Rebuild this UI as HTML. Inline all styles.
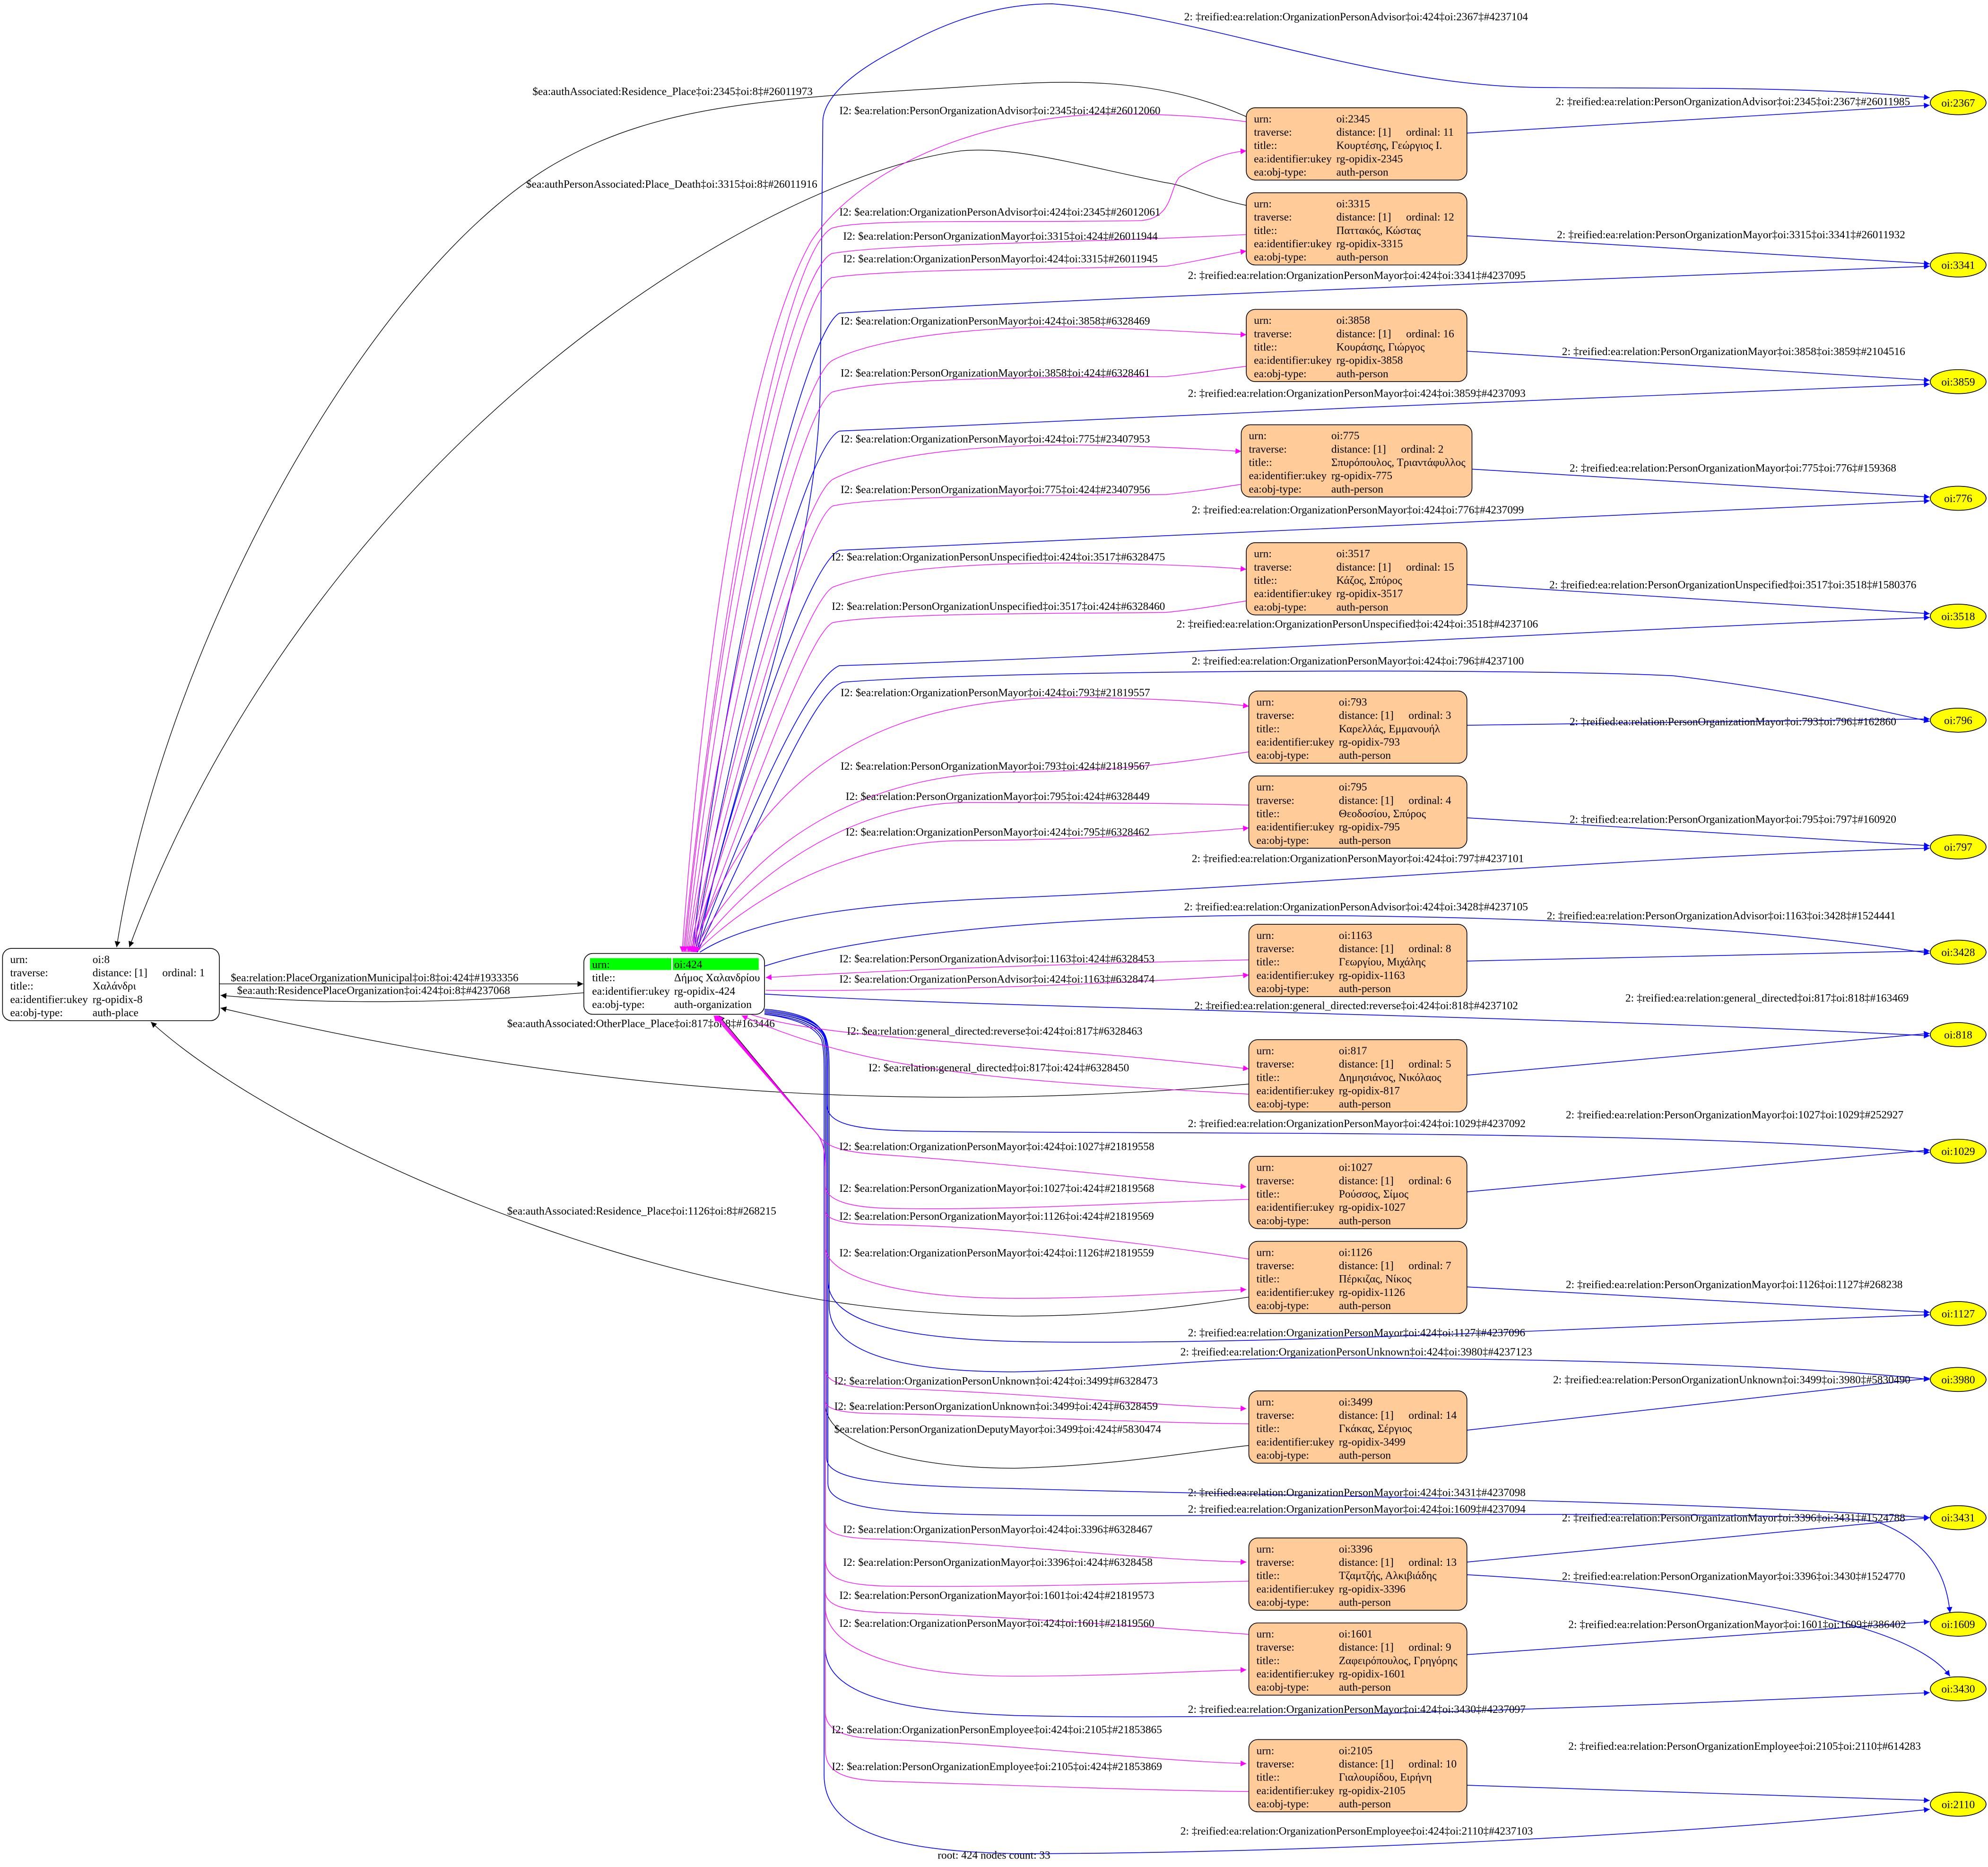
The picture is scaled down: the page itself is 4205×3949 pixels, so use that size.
<!DOCTYPE html>
<html><head><meta charset="utf-8"><style>
html,body{margin:0;padding:0;background:#fff}
svg{display:block}
text{font-family:"Liberation Serif","DejaVu Serif",serif;font-size:8.7px;fill:#000}
</style></head><body>
<svg xmlns="http://www.w3.org/2000/svg" width="4205" height="3949" viewBox="0 0 1568 1472.5" preserveAspectRatio="none">
<defs>
<marker id="ab" viewBox="0 0 10 10" refX="10" refY="5" markerWidth="6" markerHeight="4.5" orient="auto" markerUnits="userSpaceOnUse"><path d="M0,0L10,5L0,10z" fill="#0000ff"/></marker>
<marker id="am" viewBox="0 0 10 10" refX="10" refY="5" markerWidth="6" markerHeight="4.5" orient="auto" markerUnits="userSpaceOnUse"><path d="M0,0L10,5L0,10z" fill="#ff00ff"/></marker>
<marker id="amr" viewBox="0 0 10 10" refX="10" refY="5" markerWidth="6" markerHeight="4.5" orient="auto-start-reverse" markerUnits="userSpaceOnUse"><path d="M0,0L10,5L0,10z" fill="#ff00ff"/></marker>
<marker id="ak" viewBox="0 0 10 10" refX="10" refY="5" markerWidth="6" markerHeight="4.5" orient="auto" markerUnits="userSpaceOnUse"><path d="M0,0L10,5L0,10z" fill="#000"/></marker>
<marker id="akr" viewBox="0 0 10 10" refX="10" refY="5" markerWidth="6" markerHeight="4.5" orient="auto-start-reverse" markerUnits="userSpaceOnUse"><path d="M0,0L10,5L0,10z" fill="#000"/></marker>
</defs>
<rect width="1568" height="1472.5" fill="#fff"/>

<!-- BLACK EDGES -->
<g fill="none" stroke="#000" stroke-width="0.5">
<path d="M173,776 L460,776" marker-end="url(#ak)"/>
<path d="M460.5,783 C350,792 250,792 174,785" marker-end="url(#ak)"/>
<path d="M985,855 C700,880 450,860 174,795" marker-end="url(#ak)"/>
<path d="M985,1023 C940,1030 880,1038 800,1038 C700,1036 640,1025 590,1014 C400,975 200,880 119,806" marker-end="url(#ak)"/>
<path d="M983,92 C900,55 820,65 737,70 C600,78 520,85 447,124 C300,200 130,500 92,747" marker-end="url(#ak)"/>
<path d="M983,162 C950,155 935,146 919,144 C850,130 800,115 758,119 C600,140 250,350 102,747" marker-end="url(#ak)"/>
<path d="M567,801 L645,895 C650,902 651,910 651,925 L651,1110 C655,1140 720,1158 800,1158 C880,1156 940,1145 985,1140" marker-start="url(#akr)"/>
</g>
<text x="182" y="774">$ea:relation:PlaceOrganizationMunicipal‡oi:8‡oi:424‡#1933356</text>
<text x="187" y="784">$ea:auth:ResidencePlaceOrganization‡oi:424‡oi:8‡#4237068</text>
<text x="400" y="810">$ea:authAssociated:OtherPlace_Place‡oi:817‡oi:8‡#163446</text>
<text x="400" y="958">$ea:authAssociated:Residence_Place‡oi:1126‡oi:8‡#268215</text>
<text x="420" y="75">$ea:authAssociated:Residence_Place‡oi:2345‡oi:8‡#26011973</text>
<text x="415" y="148">$ea:authPersonAssociated:Place_Death‡oi:3315‡oi:8‡#26011916</text>
<text x="658" y="1130">$ea:relation:PersonOrganizationDeputyMayor‡oi:3499‡oi:424‡#5830474</text>

<!-- BLUE EDGES FROM 424 -->
<g fill="none" stroke="#0000ff" stroke-width="0.6">
<path d="M550,751 C580,600 646,450 647,300 L649,95 C650,80 665,60 711,37 C750,15 790,3 830,3 C950,12 1080,68 1215,69 C1330,70 1420,68 1522,77" marker-end="url(#ab)"/>
<path d="M546,751 C575,500 635,262 662,247 C800,238 1100,226 1522,210" marker-end="url(#ab)"/>
<path d="M547,751 C580,560 635,352 662,340 C900,328 1300,312 1522,303" marker-end="url(#ab)"/>
<path d="M548,751 C585,600 637,446 662,434 C900,424 1300,405 1522,395" marker-end="url(#ab)"/>
<path d="M549,751 C590,640 638,535 662,525 C900,518 1300,495 1522,487" marker-end="url(#ab)"/>
<path d="M550,751 C595,660 640,545 665,538 C800,528 1200,527 1320,533 C1420,545 1480,560 1522,569" marker-end="url(#ab)"/>
<path d="M552,751 C600,720 700,712 800,708 C1000,700 1300,675 1522,669" marker-end="url(#ab)"/>
<path d="M603,762 C700,730 900,722 1000,722 C1200,722 1400,732 1522,752" marker-end="url(#ab)"/>
<path d="M603,784 C800,796 1200,800 1522,817" marker-end="url(#ab)"/>
<path d="M603,796 C630,798 645,805 649,815 C652,822 652,830 652,845 L652,870 C652,884 665,891 720,892 C900,895 1300,890 1522,909" marker-end="url(#ab)"/>
<path d="M603,797 C630,799 646,806 650,816 C653,824 653,832 653,846 L653,1010 C653,1040 700,1055 800,1058 C1000,1062 1300,1045 1522,1037" marker-end="url(#ab)"/>
<path d="M603,798 C631,800 647,807 651,817 C654,825 654,833 654,847 L654,1030 C654,1070 720,1082 800,1082 C900,1080 950,1070 1050,1071 C1300,1072 1450,1080 1522,1088" marker-end="url(#ab)"/>
<path d="M603,799 C630,801 645,808 650,818 C652,826 652,834 652,848 L652,1150 C652,1168 700,1172 800,1174 C1000,1180 1300,1182 1522,1197" marker-end="url(#ab)"/>
<path d="M603,799 C631,801 646,808 651,818 C653,826 653,834 653,848 L653,1170 C653,1190 700,1194 800,1195 C1000,1197 1400,1190 1480,1200 C1520,1215 1535,1240 1538,1272" marker-end="url(#ab)"/>
<path d="M603,800 C629,802 644,809 649,819 C651,827 651,835 651,849 L651,1300 C651,1340 720,1350 800,1353 C1000,1358 1300,1345 1522,1335" marker-end="url(#ab)"/>
<path d="M603,800 C628,803 643,810 648,820 C650,828 650,836 650,850 L650,1400 C650,1450 720,1460 800,1462 C1000,1462 1300,1450 1522,1427" marker-end="url(#ab)"/>
</g>
<text x="934" y="16">2: ‡reified:ea:relation:OrganizationPersonAdvisor‡oi:424‡oi:2367‡#4237104</text>
<text x="937" y="220">2: ‡reified:ea:relation:OrganizationPersonMayor‡oi:424‡oi:3341‡#4237095</text>
<text x="937" y="313">2: ‡reified:ea:relation:OrganizationPersonMayor‡oi:424‡oi:3859‡#4237093</text>
<text x="940" y="405">2: ‡reified:ea:relation:OrganizationPersonMayor‡oi:424‡oi:776‡#4237099</text>
<text x="928" y="495">2: ‡reified:ea:relation:OrganizationPersonUnspecified‡oi:424‡oi:3518‡#4237106</text>
<text x="940" y="524">2: ‡reified:ea:relation:OrganizationPersonMayor‡oi:424‡oi:796‡#4237100</text>
<text x="940" y="680">2: ‡reified:ea:relation:OrganizationPersonMayor‡oi:424‡oi:797‡#4237101</text>
<text x="934" y="718">2: ‡reified:ea:relation:OrganizationPersonAdvisor‡oi:424‡oi:3428‡#4237105</text>
<text x="942" y="796">2: ‡reified:ea:relation:general_directed:reverse‡oi:424‡oi:818‡#4237102</text>
<text x="937" y="889">2: ‡reified:ea:relation:OrganizationPersonMayor‡oi:424‡oi:1029‡#4237092</text>
<text x="937" y="1054">2: ‡reified:ea:relation:OrganizationPersonMayor‡oi:424‡oi:1127‡#4237096</text>
<text x="931" y="1069">2: ‡reified:ea:relation:OrganizationPersonUnknown‡oi:424‡oi:3980‡#4237123</text>
<text x="937" y="1180">2: ‡reified:ea:relation:OrganizationPersonMayor‡oi:424‡oi:3431‡#4237098</text>
<text x="937" y="1193">2: ‡reified:ea:relation:OrganizationPersonMayor‡oi:424‡oi:1609‡#4237094</text>
<text x="937" y="1351">2: ‡reified:ea:relation:OrganizationPersonMayor‡oi:424‡oi:3430‡#4237097</text>
<text x="931" y="1447">2: ‡reified:ea:relation:OrganizationPersonEmployee‡oi:424‡oi:2110‡#4237103</text>

<!-- BLUE EDGES PERSON -> ELLIPSE -->
<g fill="none" stroke="#0000ff" stroke-width="0.6">
<path d="M1157,105 L1522,83" marker-end="url(#ab)"/>
<path d="M1157,186 L1522,208" marker-end="url(#ab)"/>
<path d="M1157,277 L1522,300" marker-end="url(#ab)"/>
<path d="M1161,370 L1522,392" marker-end="url(#ab)"/>
<path d="M1157,461 L1522,484" marker-end="url(#ab)"/>
<path d="M1157,572 L1522,567" marker-end="url(#ab)"/>
<path d="M1157,645 L1522,667" marker-end="url(#ab)"/>
<path d="M1157,758 L1522,750" marker-end="url(#ab)"/>
<path d="M1157,848 L1522,815" marker-end="url(#ab)"/>
<path d="M1157,940 L1522,907" marker-end="url(#ab)"/>
<path d="M1157,1015 L1522,1035" marker-end="url(#ab)"/>
<path d="M1157,1128 L1522,1087" marker-end="url(#ab)"/>
<path d="M1157,1232 L1522,1197" marker-end="url(#ab)"/>
<path d="M1157,1242 C1300,1250 1500,1270 1538,1322" marker-end="url(#ab)"/>
<path d="M1157,1305 L1522,1279" marker-end="url(#ab)"/>
<path d="M1157,1408 L1522,1420" marker-end="url(#ab)"/>
</g>
<text x="1227" y="83">2: ‡reified:ea:relation:PersonOrganizationAdvisor‡oi:2345‡oi:2367‡#26011985</text>
<text x="1228" y="188">2: ‡reified:ea:relation:PersonOrganizationMayor‡oi:3315‡oi:3341‡#26011932</text>
<text x="1232" y="280">2: ‡reified:ea:relation:PersonOrganizationMayor‡oi:3858‡oi:3859‡#2104516</text>
<text x="1238" y="372">2: ‡reified:ea:relation:PersonOrganizationMayor‡oi:775‡oi:776‡#159368</text>
<text x="1222" y="464">2: ‡reified:ea:relation:PersonOrganizationUnspecified‡oi:3517‡oi:3518‡#1580376</text>
<text x="1238" y="572">2: ‡reified:ea:relation:PersonOrganizationMayor‡oi:793‡oi:796‡#162860</text>
<text x="1238" y="649">2: ‡reified:ea:relation:PersonOrganizationMayor‡oi:795‡oi:797‡#160920</text>
<text x="1220" y="725">2: ‡reified:ea:relation:PersonOrganizationAdvisor‡oi:1163‡oi:3428‡#1524441</text>
<text x="1282" y="790">2: ‡reified:ea:relation:general_directed‡oi:817‡oi:818‡#163469</text>
<text x="1235" y="882">2: ‡reified:ea:relation:PersonOrganizationMayor‡oi:1027‡oi:1029‡#252927</text>
<text x="1235" y="1016">2: ‡reified:ea:relation:PersonOrganizationMayor‡oi:1126‡oi:1127‡#268238</text>
<text x="1225" y="1091">2: ‡reified:ea:relation:PersonOrganizationUnknown‡oi:3499‡oi:3980‡#5830490</text>
<text x="1232" y="1200">2: ‡reified:ea:relation:PersonOrganizationMayor‡oi:3396‡oi:3431‡#1524788</text>
<text x="1232" y="1246">2: ‡reified:ea:relation:PersonOrganizationMayor‡oi:3396‡oi:3430‡#1524770</text>
<text x="1237" y="1284">2: ‡reified:ea:relation:PersonOrganizationMayor‡oi:1601‡oi:1609‡#386402</text>
<text x="1237" y="1380">2: ‡reified:ea:relation:PersonOrganizationEmployee‡oi:2105‡oi:2110‡#614283</text>

<!-- MAGENTA EDGES -->
<g fill="none" stroke="#ff00ff" stroke-width="0.5">
<path d="M538,751 C560,450 600,260 640,190 C680,130 780,90 880,90 C930,90 960,93 983,96" marker-start="url(#amr)"/>
<path d="M539,751 C570,450 620,200 656,180 C680,172 800,176 900,174 C925,172 922,150 930,140 C950,125 970,120 983,119" marker-end="url(#am)"/>
<path d="M540,751 C570,450 625,215 656,200 C700,192 850,192 983,185" marker-start="url(#amr)"/>
<path d="M541,751 C572,480 628,232 656,219 C700,212 850,212 920,210 C950,205 970,200 983,198" marker-end="url(#am)"/>
<path d="M542,751 C575,520 630,298 657,284 C700,262 800,257 850,258 C920,260 960,263 983,264" marker-end="url(#am)"/>
<path d="M543,751 C578,540 632,320 657,309 C700,298 800,298 920,297 C950,294 970,290 983,289" marker-start="url(#amr)"/>
<path d="M544,751 C580,580 633,392 657,378 C700,356 780,351 850,351 C920,352 960,355 979,356" marker-end="url(#am)"/>
<path d="M545,751 C582,600 635,410 657,399 C700,390 850,391 920,390 C950,387 965,384 979,382" marker-start="url(#amr)"/>
<path d="M545,751 C585,620 636,475 657,463 C700,447 780,444 850,444 C920,445 960,447 983,449" marker-end="url(#am)"/>
<path d="M546,751 C588,640 637,500 657,491 C700,483 850,484 920,483 C950,480 968,476 983,474" marker-start="url(#amr)"/>
<path d="M546,751 C600,600 700,550 850,550 C920,551 960,554 985,557" marker-end="url(#am)"/>
<path d="M547,751 C600,650 700,609 800,609 C900,608 950,598 985,593" marker-start="url(#amr)"/>
<path d="M548,751 C600,680 680,634 760,633 C880,633 950,634 985,635" marker-start="url(#amr)"/>
<path d="M549,751 C600,700 680,663 760,663 C880,662 950,656 985,653" marker-end="url(#am)"/>
<path d="M604,771 C700,765 850,760 985,757" marker-start="url(#amr)"/>
<path d="M604,781 C700,782 850,778 985,769" marker-end="url(#am)"/>
<path d="M592,800 C650,820 800,822 985,843" marker-end="url(#am)"/>
<path d="M585,801 C690,848 800,852 985,863" marker-start="url(#amr)"/>
<path d="M566,801 L645,895 C652,905 665,909 700,911 C800,918 900,930 983,936" marker-end="url(#am)"/>
<path d="M566,801 L645,895 C650,902 651,910 651,925 L651,935 C651,945 665,952 700,953 C800,955 900,948 985,946" marker-start="url(#amr)"/>
<path d="M565,801 L645,895 C650,902 651,910 651,925 L651,955 C651,962 665,966 700,966 C800,968 900,980 985,993" marker-start="url(#amr)"/>
<path d="M565,801 L645,895 C650,902 651,910 651,925 L651,985 C655,1010 720,1024 800,1024 C880,1024 940,1019 983,1017" marker-end="url(#am)"/>
<path d="M566,801 L645,895 C650,902 651,910 651,925 L651,1080 C651,1090 665,1095 700,1095 C800,1098 900,1108 983,1111" marker-end="url(#am)"/>
<path d="M566,801 L645,895 C650,902 651,910 651,925 L651,1105 C651,1112 665,1115 700,1115 C800,1117 900,1122 985,1123" marker-start="url(#amr)"/>
<path d="M565,801 L645,895 C650,902 651,910 651,925 L651,1200 C651,1210 665,1214 700,1214 C800,1218 900,1230 983,1232" marker-end="url(#am)"/>
<path d="M565,801 L645,895 C650,902 651,910 651,925 L651,1230 C651,1245 665,1250 700,1251 C800,1252 900,1249 985,1247" marker-start="url(#amr)"/>
<path d="M564,801 L645,895 C650,902 651,910 651,925 L651,1255 C651,1266 665,1271 700,1272 C800,1275 900,1283 985,1289" marker-start="url(#amr)"/>
<path d="M564,801 L645,895 C650,902 651,910 651,925 L651,1270 C655,1305 720,1322 800,1322 C880,1322 940,1318 983,1317" marker-end="url(#am)"/>
<path d="M563,801 L645,895 C650,902 651,910 651,925 L651,1350 C651,1365 665,1371 700,1372 C800,1376 900,1388 983,1391" marker-end="url(#am)"/>
<path d="M563,801 L645,895 C650,902 651,910 651,925 L651,1380 C651,1398 665,1404 700,1405 C800,1408 900,1412 985,1413" marker-start="url(#amr)"/>
</g>
<text x="662" y="90">I2: $ea:relation:PersonOrganizationAdvisor‡oi:2345‡oi:424‡#26012060</text>
<text x="662" y="170">I2: $ea:relation:OrganizationPersonAdvisor‡oi:424‡oi:2345‡#26012061</text>
<text x="665" y="189">I2: $ea:relation:PersonOrganizationMayor‡oi:3315‡oi:424‡#26011944</text>
<text x="665" y="207">I2: $ea:relation:OrganizationPersonMayor‡oi:424‡oi:3315‡#26011945</text>
<text x="663" y="256">I2: $ea:relation:OrganizationPersonMayor‡oi:424‡oi:3858‡#6328469</text>
<text x="663" y="297">I2: $ea:relation:PersonOrganizationMayor‡oi:3858‡oi:424‡#6328461</text>
<text x="663" y="349">I2: $ea:relation:OrganizationPersonMayor‡oi:424‡oi:775‡#23407953</text>
<text x="663" y="389">I2: $ea:relation:PersonOrganizationMayor‡oi:775‡oi:424‡#23407956</text>
<text x="656" y="442">I2: $ea:relation:OrganizationPersonUnspecified‡oi:424‡oi:3517‡#6328475</text>
<text x="656" y="481">I2: $ea:relation:PersonOrganizationUnspecified‡oi:3517‡oi:424‡#6328460</text>
<text x="663" y="549">I2: $ea:relation:OrganizationPersonMayor‡oi:424‡oi:793‡#21819557</text>
<text x="663" y="607">I2: $ea:relation:PersonOrganizationMayor‡oi:793‡oi:424‡#21819567</text>
<text x="667" y="631">I2: $ea:relation:PersonOrganizationMayor‡oi:795‡oi:424‡#6328449</text>
<text x="667" y="659">I2: $ea:relation:OrganizationPersonMayor‡oi:424‡oi:795‡#6328462</text>
<text x="662" y="759">I2: $ea:relation:PersonOrganizationAdvisor‡oi:1163‡oi:424‡#6328453</text>
<text x="662" y="775">I2: $ea:relation:OrganizationPersonAdvisor‡oi:424‡oi:1163‡#6328474</text>
<text x="668" y="816">I2: $ea:relation:general_directed:reverse‡oi:424‡oi:817‡#6328463</text>
<text x="685" y="845">I2: $ea:relation:general_directed‡oi:817‡oi:424‡#6328450</text>
<text x="662" y="907">I2: $ea:relation:OrganizationPersonMayor‡oi:424‡oi:1027‡#21819558</text>
<text x="662" y="940">I2: $ea:relation:PersonOrganizationMayor‡oi:1027‡oi:424‡#21819568</text>
<text x="662" y="962">I2: $ea:relation:PersonOrganizationMayor‡oi:1126‡oi:424‡#21819569</text>
<text x="662" y="991">I2: $ea:relation:OrganizationPersonMayor‡oi:424‡oi:1126‡#21819559</text>
<text x="658" y="1092">I2: $ea:relation:OrganizationPersonUnknown‡oi:424‡oi:3499‡#6328473</text>
<text x="658" y="1112">I2: $ea:relation:PersonOrganizationUnknown‡oi:3499‡oi:424‡#6328459</text>
<text x="665" y="1209">I2: $ea:relation:OrganizationPersonMayor‡oi:424‡oi:3396‡#6328467</text>
<text x="665" y="1235">I2: $ea:relation:PersonOrganizationMayor‡oi:3396‡oi:424‡#6328458</text>
<text x="662" y="1261">I2: $ea:relation:PersonOrganizationMayor‡oi:1601‡oi:424‡#21819573</text>
<text x="662" y="1283">I2: $ea:relation:OrganizationPersonMayor‡oi:424‡oi:1601‡#21819560</text>
<text x="656" y="1367">I2: $ea:relation:OrganizationPersonEmployee‡oi:424‡oi:2105‡#21853865</text>
<text x="656" y="1396">I2: $ea:relation:PersonOrganizationEmployee‡oi:2105‡oi:424‡#21853869</text>

<!-- NODE oi:8 -->
<rect x="2" y="748" width="171" height="57" rx="7" fill="#fff" stroke="#000" stroke-width="0.6"/>
<text x="8" y="759.5">urn:</text><text x="73" y="759.5">oi:8</text>
<text x="8" y="770">traverse:</text><text x="73" y="770">distance: [1]</text><text x="128" y="770">ordinal: 1</text>
<text x="8" y="780.5">title::</text><text x="73" y="780.5">Χαλάνδρι</text>
<text x="8" y="791">ea:identifier:ukey</text><text x="73" y="791">rg-opidix-8</text>
<text x="8" y="801.5">ea:obj-type:</text><text x="73" y="801.5">auth-place</text>

<!-- NODE oi:424 -->
<rect x="460.5" y="752" width="142.5" height="48" rx="7" fill="#fff" stroke="#000" stroke-width="0.6"/>
<rect x="465.3" y="755.7" width="64.2" height="9.3" fill="#00ff00"/>
<rect x="530.6" y="755.7" width="67.8" height="9.3" fill="#00ff00"/>
<text x="467" y="763.5">urn:</text><text x="531.7" y="763.5">oi:424</text>
<text x="467" y="774">title::</text><text x="531.7" y="774">Δήμος Χαλανδρίου</text>
<text x="467" y="784.5">ea:identifier:ukey</text><text x="531.7" y="784.5">rg-opidix-424</text>
<text x="467" y="795">ea:obj-type:</text><text x="531.7" y="795">auth-organization</text>

<!-- PERSON NODES -->
<g>
<g transform="translate(983,85)"><rect width="174" height="57" rx="7" fill="#ffcc99" stroke="#000" stroke-width="0.6"/><text x="6" y="11.5">urn:</text><text x="71" y="11.5">oi:2345</text><text x="6" y="22">traverse:</text><text x="71" y="22">distance: [1]</text><text x="126" y="22">ordinal: 11</text><text x="6" y="32.5">title::</text><text x="71" y="32.5">Κουρτέσης, Γεώργιος Ι.</text><text x="6" y="43">ea:identifier:ukey</text><text x="71" y="43">rg-opidix-2345</text><text x="6" y="53.5">ea:obj-type:</text><text x="71" y="53.5">auth-person</text></g>
<g transform="translate(983,152)"><rect width="174" height="57" rx="7" fill="#ffcc99" stroke="#000" stroke-width="0.6"/><text x="6" y="11.5">urn:</text><text x="71" y="11.5">oi:3315</text><text x="6" y="22">traverse:</text><text x="71" y="22">distance: [1]</text><text x="126" y="22">ordinal: 12</text><text x="6" y="32.5">title::</text><text x="71" y="32.5">Παττακός, Κώστας</text><text x="6" y="43">ea:identifier:ukey</text><text x="71" y="43">rg-opidix-3315</text><text x="6" y="53.5">ea:obj-type:</text><text x="71" y="53.5">auth-person</text></g>
<g transform="translate(983,244)"><rect width="174" height="57" rx="7" fill="#ffcc99" stroke="#000" stroke-width="0.6"/><text x="6" y="11.5">urn:</text><text x="71" y="11.5">oi:3858</text><text x="6" y="22">traverse:</text><text x="71" y="22">distance: [1]</text><text x="126" y="22">ordinal: 16</text><text x="6" y="32.5">title::</text><text x="71" y="32.5">Κουράσης, Γιώργος</text><text x="6" y="43">ea:identifier:ukey</text><text x="71" y="43">rg-opidix-3858</text><text x="6" y="53.5">ea:obj-type:</text><text x="71" y="53.5">auth-person</text></g>
<g transform="translate(979,335)"><rect width="182" height="57" rx="7" fill="#ffcc99" stroke="#000" stroke-width="0.6"/><text x="6" y="11.5">urn:</text><text x="71" y="11.5">oi:775</text><text x="6" y="22">traverse:</text><text x="71" y="22">distance: [1]</text><text x="126" y="22">ordinal: 2</text><text x="6" y="32.5">title::</text><text x="71" y="32.5">Σπυρόπουλος, Τριαντάφυλλος</text><text x="6" y="43">ea:identifier:ukey</text><text x="71" y="43">rg-opidix-775</text><text x="6" y="53.5">ea:obj-type:</text><text x="71" y="53.5">auth-person</text></g>
<g transform="translate(983,428)"><rect width="174" height="57" rx="7" fill="#ffcc99" stroke="#000" stroke-width="0.6"/><text x="6" y="11.5">urn:</text><text x="71" y="11.5">oi:3517</text><text x="6" y="22">traverse:</text><text x="71" y="22">distance: [1]</text><text x="126" y="22">ordinal: 15</text><text x="6" y="32.5">title::</text><text x="71" y="32.5">Κάζος, Σπύρος</text><text x="6" y="43">ea:identifier:ukey</text><text x="71" y="43">rg-opidix-3517</text><text x="6" y="53.5">ea:obj-type:</text><text x="71" y="53.5">auth-person</text></g>
<g transform="translate(985,545)"><rect width="172" height="57" rx="7" fill="#ffcc99" stroke="#000" stroke-width="0.6"/><text x="6" y="11.5">urn:</text><text x="71" y="11.5">oi:793</text><text x="6" y="22">traverse:</text><text x="71" y="22">distance: [1]</text><text x="126" y="22">ordinal: 3</text><text x="6" y="32.5">title::</text><text x="71" y="32.5">Καρελλάς, Εμμανουήλ</text><text x="6" y="43">ea:identifier:ukey</text><text x="71" y="43">rg-opidix-793</text><text x="6" y="53.5">ea:obj-type:</text><text x="71" y="53.5">auth-person</text></g>
<g transform="translate(985,612)"><rect width="172" height="57" rx="7" fill="#ffcc99" stroke="#000" stroke-width="0.6"/><text x="6" y="11.5">urn:</text><text x="71" y="11.5">oi:795</text><text x="6" y="22">traverse:</text><text x="71" y="22">distance: [1]</text><text x="126" y="22">ordinal: 4</text><text x="6" y="32.5">title::</text><text x="71" y="32.5">Θεοδοσίου, Σπύρος</text><text x="6" y="43">ea:identifier:ukey</text><text x="71" y="43">rg-opidix-795</text><text x="6" y="53.5">ea:obj-type:</text><text x="71" y="53.5">auth-person</text></g>
<g transform="translate(985,729)"><rect width="172" height="57" rx="7" fill="#ffcc99" stroke="#000" stroke-width="0.6"/><text x="6" y="11.5">urn:</text><text x="71" y="11.5">oi:1163</text><text x="6" y="22">traverse:</text><text x="71" y="22">distance: [1]</text><text x="126" y="22">ordinal: 8</text><text x="6" y="32.5">title::</text><text x="71" y="32.5">Γεωργίου, Μιχάλης</text><text x="6" y="43">ea:identifier:ukey</text><text x="71" y="43">rg-opidix-1163</text><text x="6" y="53.5">ea:obj-type:</text><text x="71" y="53.5">auth-person</text></g>
<g transform="translate(985,820)"><rect width="172" height="57" rx="7" fill="#ffcc99" stroke="#000" stroke-width="0.6"/><text x="6" y="11.5">urn:</text><text x="71" y="11.5">oi:817</text><text x="6" y="22">traverse:</text><text x="71" y="22">distance: [1]</text><text x="126" y="22">ordinal: 5</text><text x="6" y="32.5">title::</text><text x="71" y="32.5">Δημησιάνος, Νικόλαος</text><text x="6" y="43">ea:identifier:ukey</text><text x="71" y="43">rg-opidix-817</text><text x="6" y="53.5">ea:obj-type:</text><text x="71" y="53.5">auth-person</text></g>
<g transform="translate(985,912)"><rect width="172" height="57" rx="7" fill="#ffcc99" stroke="#000" stroke-width="0.6"/><text x="6" y="11.5">urn:</text><text x="71" y="11.5">oi:1027</text><text x="6" y="22">traverse:</text><text x="71" y="22">distance: [1]</text><text x="126" y="22">ordinal: 6</text><text x="6" y="32.5">title::</text><text x="71" y="32.5">Ρούσσος, Σίμος</text><text x="6" y="43">ea:identifier:ukey</text><text x="71" y="43">rg-opidix-1027</text><text x="6" y="53.5">ea:obj-type:</text><text x="71" y="53.5">auth-person</text></g>
<g transform="translate(985,979)"><rect width="172" height="57" rx="7" fill="#ffcc99" stroke="#000" stroke-width="0.6"/><text x="6" y="11.5">urn:</text><text x="71" y="11.5">oi:1126</text><text x="6" y="22">traverse:</text><text x="71" y="22">distance: [1]</text><text x="126" y="22">ordinal: 7</text><text x="6" y="32.5">title::</text><text x="71" y="32.5">Πέρκιζας, Νίκος</text><text x="6" y="43">ea:identifier:ukey</text><text x="71" y="43">rg-opidix-1126</text><text x="6" y="53.5">ea:obj-type:</text><text x="71" y="53.5">auth-person</text></g>
<g transform="translate(985,1097)"><rect width="172" height="57" rx="7" fill="#ffcc99" stroke="#000" stroke-width="0.6"/><text x="6" y="11.5">urn:</text><text x="71" y="11.5">oi:3499</text><text x="6" y="22">traverse:</text><text x="71" y="22">distance: [1]</text><text x="126" y="22">ordinal: 14</text><text x="6" y="32.5">title::</text><text x="71" y="32.5">Γκάκας, Σέργιος</text><text x="6" y="43">ea:identifier:ukey</text><text x="71" y="43">rg-opidix-3499</text><text x="6" y="53.5">ea:obj-type:</text><text x="71" y="53.5">auth-person</text></g>
<g transform="translate(985,1213)"><rect width="172" height="57" rx="7" fill="#ffcc99" stroke="#000" stroke-width="0.6"/><text x="6" y="11.5">urn:</text><text x="71" y="11.5">oi:3396</text><text x="6" y="22">traverse:</text><text x="71" y="22">distance: [1]</text><text x="126" y="22">ordinal: 13</text><text x="6" y="32.5">title::</text><text x="71" y="32.5">Τζαμτζής, Αλκιβιάδης</text><text x="6" y="43">ea:identifier:ukey</text><text x="71" y="43">rg-opidix-3396</text><text x="6" y="53.5">ea:obj-type:</text><text x="71" y="53.5">auth-person</text></g>
<g transform="translate(985,1280)"><rect width="172" height="57" rx="7" fill="#ffcc99" stroke="#000" stroke-width="0.6"/><text x="6" y="11.5">urn:</text><text x="71" y="11.5">oi:1601</text><text x="6" y="22">traverse:</text><text x="71" y="22">distance: [1]</text><text x="126" y="22">ordinal: 9</text><text x="6" y="32.5">title::</text><text x="71" y="32.5">Ζαφειρόπουλος, Γρηγόρης</text><text x="6" y="43">ea:identifier:ukey</text><text x="71" y="43">rg-opidix-1601</text><text x="6" y="53.5">ea:obj-type:</text><text x="71" y="53.5">auth-person</text></g>
<g transform="translate(985,1372)"><rect width="172" height="57" rx="7" fill="#ffcc99" stroke="#000" stroke-width="0.6"/><text x="6" y="11.5">urn:</text><text x="71" y="11.5">oi:2105</text><text x="6" y="22">traverse:</text><text x="71" y="22">distance: [1]</text><text x="126" y="22">ordinal: 10</text><text x="6" y="32.5">title::</text><text x="71" y="32.5">Γιαλουρίδου, Ειρήνη</text><text x="6" y="43">ea:identifier:ukey</text><text x="71" y="43">rg-opidix-2105</text><text x="6" y="53.5">ea:obj-type:</text><text x="71" y="53.5">auth-person</text></g>
</g>

<!-- ELLIPSES -->
<g fill="#ffff00" stroke="#000" stroke-width="0.6">
<ellipse cx="1544.5" cy="81" rx="22" ry="9.5"/>
<ellipse cx="1544.5" cy="209" rx="22" ry="9.5"/>
<ellipse cx="1544.5" cy="301" rx="22" ry="9.5"/>
<ellipse cx="1544.5" cy="393" rx="22" ry="9.5"/>
<ellipse cx="1544.5" cy="486" rx="22" ry="9.5"/>
<ellipse cx="1544.5" cy="568" rx="22" ry="9.5"/>
<ellipse cx="1544.5" cy="668" rx="22" ry="9.5"/>
<ellipse cx="1544.5" cy="751" rx="22" ry="9.5"/>
<ellipse cx="1544.5" cy="816" rx="22" ry="9.5"/>
<ellipse cx="1544.5" cy="908" rx="22" ry="9.5"/>
<ellipse cx="1544.5" cy="1036" rx="22" ry="9.5"/>
<ellipse cx="1544.5" cy="1088" rx="22" ry="9.5"/>
<ellipse cx="1544.5" cy="1197" rx="22" ry="9.5"/>
<ellipse cx="1544.5" cy="1281" rx="22" ry="9.5"/>
<ellipse cx="1544.5" cy="1332" rx="22" ry="9.5"/>
<ellipse cx="1544.5" cy="1423" rx="22" ry="9.5"/>
</g>
<g text-anchor="middle">
<text x="1544.5" y="84">oi:2367</text>
<text x="1544.5" y="212">oi:3341</text>
<text x="1544.5" y="304">oi:3859</text>
<text x="1544.5" y="396">oi:776</text>
<text x="1544.5" y="489">oi:3518</text>
<text x="1544.5" y="571">oi:796</text>
<text x="1544.5" y="671">oi:797</text>
<text x="1544.5" y="754">oi:3428</text>
<text x="1544.5" y="819">oi:818</text>
<text x="1544.5" y="911">oi:1029</text>
<text x="1544.5" y="1039">oi:1127</text>
<text x="1544.5" y="1091">oi:3980</text>
<text x="1544.5" y="1200">oi:3431</text>
<text x="1544.5" y="1284">oi:1609</text>
<text x="1544.5" y="1335">oi:3430</text>
<text x="1544.5" y="1426">oi:2110</text>
<text x="784" y="1466">root: 424 nodes count: 33</text>
</g>
</svg>
</body></html>
